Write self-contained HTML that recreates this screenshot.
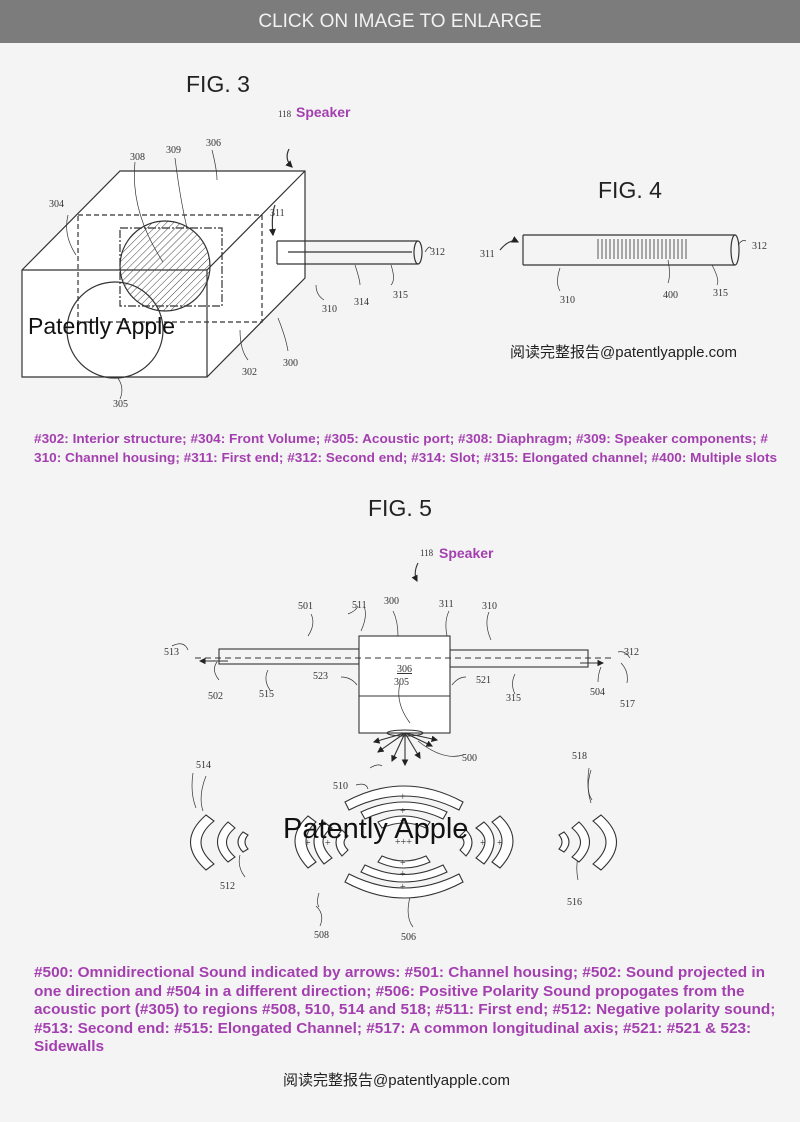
<!DOCTYPE html><html><head><meta charset="utf-8"><style>
body{margin:0;width:800px;height:1122px;background:#f4f4f4;overflow:hidden;font-family:"Liberation Sans",sans-serif;position:relative}
.hdr{position:absolute;left:0;top:0;width:800px;height:43px;background:#7c7c7c;color:#f2f2f2;font-size:19px;text-align:center;line-height:43px}
.p{position:absolute;color:#a43fb0;font-weight:bold;font-size:13.3px;line-height:18.5px;white-space:nowrap;transform-origin:0 0}
svg{position:absolute;left:0;top:0}
svg text{font-family:"Liberation Serif",serif;font-size:10px;fill:#333}
</style></head><body>
<div class="hdr">CLICK ON IMAGE TO ENLARGE</div>
<svg width="800" height="1122" viewBox="0 0 800 1122">
<defs><pattern id="h" width="5" height="5" patternUnits="userSpaceOnUse" patternTransform="rotate(45)"><line x1="0" y1="0" x2="0" y2="5" stroke="#444" stroke-width="1"/></pattern>
<marker id="a" markerWidth="6" markerHeight="6" refX="5" refY="3" orient="auto"><path d="M0,0L6,3L0,6z" fill="#222"/></marker></defs>
<g fill="none" stroke="#333" stroke-width="1.2">
<text x="186" y="92" style="font-family:'Liberation Sans';font-size:23px;fill:#222;stroke:none">FIG. 3</text>
<text x="598" y="198" style="font-family:'Liberation Sans';font-size:23px;fill:#222;stroke:none">FIG. 4</text>
<text x="368" y="516" style="font-family:'Liberation Sans';font-size:23px;fill:#222;stroke:none">FIG. 5</text>
<path d="M22,270L120,171L305,171L305,278L207,377L22,377Z" fill="#fff"/>
<path d="M22,270H207L305,171M207,270V377"/>
<rect x="78" y="215" width="184" height="107" stroke-dasharray="5,3"/>
<rect x="120" y="228" width="102" height="78" stroke-dasharray="8,2,2,2"/>
<circle cx="165" cy="266" r="45" fill="url(#h)"/>
<circle cx="115" cy="330" r="48"/>
<path d="M277,241H418M277,264H418M288,252H412"/><path d="M277,241V264"/><ellipse cx="418" cy="252.5" rx="4" ry="11.5"/>
<path d="M289,149q-5,10 3,18" marker-end="url(#a)"/><path d="M275,205q-4,10 -2,30" marker-end="url(#a)"/>
<path d="M523,235H735M523,265H735M523,235V265"/><ellipse cx="735" cy="250" rx="4" ry="15"/>
<path d="M500,250q10,-12 18,-8" marker-end="url(#a)"/>
<g stroke-width="0.8"><path d="M598,239v20M602,239v20M606,239v20M610,239v20M614,239v20M618,239v20M622,239v20M626,239v20M630,239v20M634,239v20M638,239v20M642,239v20M646,239v20M650,239v20M654,239v20M658,239v20M662,239v20M666,239v20M670,239v20M674,239v20M678,239v20M682,239v20M686,239v20"/></g>
<g stroke-width="0.7"><path d="M68,215q-5,20 8,40M135,162q-5,50 28,100M175,158q5,40 12,70M212,150q5,20 5,30M117,377q8,10 3,22M240,330q0,20 8,30M278,318q8,20 10,33M425,252q5,-8 6,-3M560,268q-5,15 0,23M668,260q3,15 0,23M712,265q8,15 5,20M316,285q0,10 8,15M355,265q5,15 5,20M391,265q5,15 0,20M738,245q4,-6 8,-4"/></g>
</g>
<g>
<text x="278" y="117" style="font-size:9px">118</text><text x="206" y="146">306</text><text x="130" y="160">308</text><text x="166" y="153">309</text><text x="49" y="207">304</text><text x="270" y="216">311</text><text x="430" y="255">312</text><text x="242" y="375">302</text><text x="283" y="366">300</text><text x="113" y="407">305</text><text x="322" y="312">310</text><text x="354" y="305">314</text><text x="393" y="298">315</text>
<text x="480" y="257">311</text><text x="752" y="249">312</text><text x="560" y="303">310</text><text x="663" y="298">400</text><text x="713" y="296">315</text>
</g>
<text x="296" y="117" style="font-family:'Liberation Sans';font-size:14px;font-weight:bold;fill:#a43fb0">Speaker</text>
<text x="28" y="334" style="font-family:'Liberation Sans';font-size:23px;fill:#111">Patently Apple</text>
<text x="510" y="357" style="font-family:'Liberation Sans','Noto Sans CJK SC',sans-serif;font-size:15px;fill:#222">阅读完整报告@patentlyapple.com</text>

<text x="420" y="556" style="font-size:9px">118</text>
<text x="439" y="558" style="font-family:'Liberation Sans';font-size:14px;font-weight:bold;fill:#a43fb0">Speaker</text>
<g fill="none" stroke="#333" stroke-width="1.1">
<path d="M418,563q-5,10 -1,18" marker-end="url(#a)"/>
<rect x="219" y="649" width="140" height="15"/><rect x="450" y="650" width="138" height="17"/>
<rect x="359" y="636" width="91" height="97" fill="#fff"/><path d="M359,696H450"/>
<path d="M195,658H615" stroke-dasharray="6,4"/>
<path d="M228,661H200" marker-end="url(#a)"/><path d="M580,663H603" marker-end="url(#a)"/>
<ellipse cx="405" cy="733" rx="18" ry="3"/>
<g marker-end="url(#a)"><path d="M405,733L374,742"/><path d="M405,733L378,752"/><path d="M405,733L392,761"/><path d="M405,733L405,765"/><path d="M405,733L420,758"/><path d="M405,733L432,746"/><path d="M405,733L437,740"/></g>
<g stroke-width="0.7"><path d="M311,614q5,10 -3,22M364,606q4,10 -3,25M393,611q5,10 5,25M449,611q-5,10 -2,25M489,612q-5,12 2,28M357,685q-6,-8 -16,-8M452,685q6,-8 14,-8M400,683q-5,20 10,40M418,741q25,20 45,14M219,680q-8,-10 -2,-18M268,670q-5,10 2,20M515,674q-5,10 0,20M598,682q0,-8 3,-15M627,683q2,-12 -6,-20M245,877q-8,-10 -5,-22M578,880q-4,-20 5,-35M410,897q-5,20 3,30M320,926q5,-12 -4,-20M630,658q-5,-8 -12,-6M188,650q-4,-10 -16,-4M206,776q-8,20 -3,35M591,770q-6,20 1,30M356,785q10,-3 12,4"/></g>
<g fill="#fff">
<path d="M345,802Q404,770 463,802L459,810Q404,782 349,810Z"/>
<path d="M361,812Q404,792 447,812L443,819Q404,800 365,819Z"/>
<path d="M378,822Q404,810 430,822L426,828Q404,818 382,828Z"/>
<path d="M345,882Q404,914 463,882L459,874Q404,902 349,874Z"/>
<path d="M361,872Q404,892 447,872L443,865Q404,884 365,865Z"/>
<path d="M378,862Q404,874 430,862L426,856Q404,866 382,856Z"/>
<path d="M308,816Q282,840 308,868L316,862Q296,840 316,822Z"/>
<path d="M324,822Q304,840 324,864L332,858Q314,840 332,828Z"/>
<path d="M342,830Q330,842 342,856L348,850Q340,842 348,836Z"/>
<path d="M500,816Q526,840 500,868L492,862Q512,840 492,822Z"/>
<path d="M484,822Q504,840 484,864L476,858Q494,840 476,828Z"/>
<path d="M466,830Q478,842 466,856L460,850Q468,842 460,836Z"/>
<path d="M206,815Q175,842 206,870L214,864Q188,842 214,821Z"/>
<path d="M228,822Q207,842 228,862L235,857Q218,842 235,828Z"/>
<path d="M243,832Q233,842 243,852L248,849Q242,842 248,835Z"/>
<path d="M601,815Q632,842 601,870L593,864Q619,842 593,821Z"/>
<path d="M579,822Q600,842 579,862L572,857Q589,842 572,828Z"/>
<path d="M564,832Q574,842 564,852L559,849Q565,842 559,835Z"/>
</g>
<g stroke-width="0.7"><path d="M370,768q8,-5 12,-2M348,614q8,-3 10,-8M193,773q-3,20 3,35M589,768q-3,20 2,35M319,893q-3,10 0,14"/></g>
</g>
<g>
<text x="298" y="609">501</text><text x="352" y="608">511</text><text x="384" y="604">300</text><text x="439" y="607">311</text><text x="482" y="609">310</text>
<text x="164" y="655">513</text><text x="624" y="655">312</text><text x="208" y="699">502</text><text x="259" y="697">515</text><text x="313" y="679">523</text><text x="476" y="683">521</text><text x="506" y="701">315</text><text x="590" y="695">504</text><text x="620" y="707">517</text>
<text x="397" y="672" style="text-decoration:underline">306</text><text x="394" y="685">305</text><text x="462" y="761">500</text>
<text x="196" y="768">514</text><text x="572" y="759">518</text><text x="333" y="789">510</text><text x="220" y="889">512</text><text x="567" y="905">516</text><text x="314" y="938">508</text><text x="401" y="940">506</text>
</g>
<g font-family="Liberation Sans" font-size="8" fill="#222"><text x="400" y="800">+</text><text x="400" y="814">+</text><text x="400" y="824">+</text><text x="395" y="845">+++</text><text x="400" y="866">+</text><text x="400" y="877">+</text><text x="400" y="890">+</text><text x="305" y="846">+</text><text x="325" y="846">+</text><text x="480" y="846">+</text><text x="497" y="846">+</text></g>
<text x="283" y="838" style="font-family:'Liberation Sans';font-size:29px;fill:#111">Patently Apple</text>
</svg>
<div class="p" style="left:34px;top:430px;transform:scaleX(1.023)">#302: Interior structure; #304: Front Volume; #305: Acoustic port; #308: Diaphragm; #309: Speaker components; #<br>310: Channel housing; #311: First end; #312: Second end; #314: Slot; #315: Elongated channel; #400: Multiple slots</div>
<div class="p" style="left:34px;top:964px;font-size:14.3px;transform:scaleX(1.075)">#500: Omnidirectional Sound indicated by arrows: #501: Channel housing; #502: Sound projected in<br>one direction and #504 in a different direction; #506: Positive Polarity Sound propogates from the<br>acoustic port (#305) to regions #508, 510, 514 and 518; #511: First end; #512: Negative polarity sound;<br>#513: Second end: #515: Elongated Channel; #517: A common longitudinal axis; #521: #521 &amp; 523:<br>Sidewalls</div>
<div style="position:absolute;left:283px;top:1069px;font-size:15px;color:#222;font-family:'Liberation Sans','Noto Sans CJK SC',sans-serif">阅读完整报告@patentlyapple.com</div>
</body></html>
